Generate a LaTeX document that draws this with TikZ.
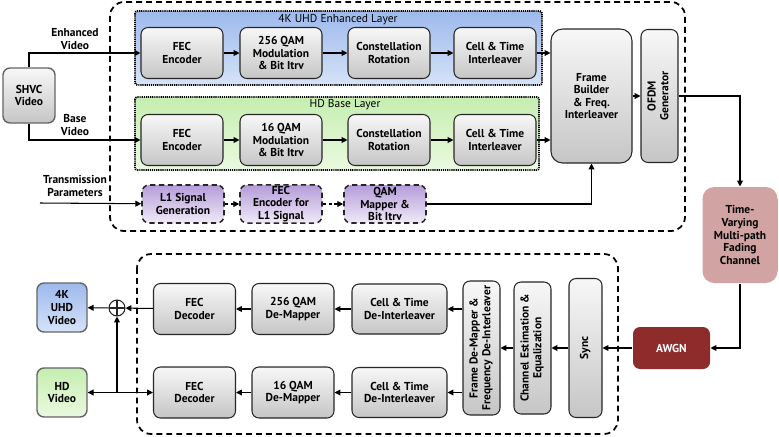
\documentclass[tikz,border=0pt]{standalone}
\usepackage{fontspec}
\setsansfont{PT Sans}
\usepackage{graphicx}
\usetikzlibrary{arrows.meta}

\definecolor{uhdTop}{HTML}{9DB9EC}
\definecolor{uhdBot}{HTML}{D6E3F8}
\definecolor{hdTop}{HTML}{C6EEB0}
\definecolor{hdBot}{HTML}{EAF9E0}
\definecolor{purpTop}{HTML}{B59CDA}
\definecolor{purpBot}{HTML}{F0EAF7}
\definecolor{fadeFill}{HTML}{D1A3A3}
\definecolor{awgnFill}{HTML}{8E2B2B}

\newcommand{\bfont}{\sffamily\bfseries\fontsize{9.8}{10.7}\selectfont}
\newcommand{\vtext}[1]{\rotatebox{90}{\begin{tabular}{@{}c@{}}#1\end{tabular}}}

\begin{document}
\begin{tikzpicture}[x=0.03cm,y=-0.03cm]
	\tikzstyle{blk}=[draw=black!85,line width=0.9pt,rounded corners=6pt,top color=gray!6,bottom color=gray!45,align=center,font=\bfont,inner sep=1pt,minimum width=2.46cm,minimum height=1.53cm]
	\tikzstyle{l1blk}=[blk,dash pattern=on 4.5pt off 3pt,line width=1.3pt,top color=purpTop,bottom color=purpBot,minimum height=1.14cm]
	\tikzstyle{vblk}=[blk,minimum width=1.11cm,minimum height=4.02cm]
	\tikzstyle{vidblk}=[blk,draw=black!60,line width=1.2pt,minimum width=1.5cm,minimum height=1.47cm]
	\tikzstyle{arr}=[-{Triangle[length=5pt,width=5pt]},line width=0.9pt]
	\tikzstyle{lbl}=[align=center,font=\bfont]
	\tikzstyle{outer}=[dash pattern=on 5pt off 3.5pt,line width=1.5pt,rounded corners=12pt]
	\tikzstyle{layer}=[dash pattern=on 1pt off 0.8pt,line width=1.6pt,rounded corners=2pt]
	\useasboundingbox (0,0) rectangle (779,436);

	% transmitter
	\draw[outer] (110,2) rectangle (685,231);
	\draw[layer,top color=uhdTop,bottom color=uhdBot] (135,11) rectangle (542,85);
	\draw[layer,top color=hdTop,bottom color=hdBot] (135,97) rectangle (539,170);
	\node[lbl,font=\sffamily\fontsize{9.8}{10.7}\selectfont] (uhdlayer) at (338,20) {4K UHD Enhanced Layer};
	\node[lbl,font=\sffamily\fontsize{9.8}{10.7}\selectfont] (hdlayer) at (345,105) {HD Base Layer};

	\node[blk] (fecA) at (182,53)  {FEC\\Encoder};
	\node[blk] (qamA) at (281,53)  {256 QAM\\Modulation\\\& Bit Itrv};
	\node[blk] (rotA) at (389,53)  {Constellation\\Rotation};
	\node[blk] (ctiA) at (495,53)  {Cell \& Time\\Interleaver};
	\node[blk] (fecB) at (182,140) {FEC\\Encoder};
	\node[blk] (qamB) at (281,140) {16 QAM\\Modulation\\\& Bit Itrv};
	\node[blk] (rotB) at (389,140) {Constellation\\Rotation};
	\node[blk] (ctiB) at (495,140) {Cell \& Time\\Interleaver};
	\node[blk,rounded corners=10pt,minimum width=2.43cm,minimum height=4.02cm] (frame) at (591.5,96) {Frame\\Builder\\\& Freq.\\Interleaver};
	\node[vblk,minimum height=3.99cm] (ofdm) at (659.5,96) {\vtext{OFDM\\Generator}};

	\node[l1blk] (l1gen) at (183,204) {L1 Signal\\Generation};
	\node[l1blk] (l1fec) at (281,204) {FEC\\Encoder for\\L1 Signal};
	\node[l1blk] (l1qam) at (385,204) {QAM\\Mapper \&\\Bit Itrv};

	\node[vidblk,minimum width=1.56cm,minimum height=1.65cm] (shvc) at (29,95.5) {SHVC\\Video};
	\node[lbl] (enhlbl) at (75,39) {Enhanced\\Video};
	\node[lbl] (baselbl) at (75,125) {Base\\Video};
	\node[lbl] (tplbl) at (75,186) {Transmission\\Parameters};
	\coordinate (tpin) at (40,203);

	% channel
	\node[blk,draw=none,rounded corners=10pt,top color=fadeFill,bottom color=fadeFill,minimum width=2.25cm,minimum height=2.88cm] (fading) at (740,235) {Time-\\Varying\\Multi-path\\Fading\\Channel};
	\node[blk,draw=none,top color=awgnFill,bottom color=awgnFill,text=white,minimum width=2.31cm,minimum height=1.26cm] (awgn) at (671.5,348) {AWGN};

	% receiver
	\draw[outer] (137,254) rectangle (618,434);
	\node[vblk,minimum width=0.99cm,minimum height=4.17cm] (sync) at (585.5,348) {\vtext{Sync}};
	\node[vblk,minimum height=3.96cm] (chest) at (532.5,348) {\vtext{Channel Estimation \&\\Equalization}};
	\node[vblk] (frdm) at (481.5,348) {\vtext{Frame De-Mapper \&\\Frequency De-Interleaver}};
	\node[blk,minimum width=2.85cm,minimum height=1.5cm] (cdtA) at (399.5,309) {Cell \& Time\\De-Interleaver};
	\node[blk] (dmA) at (293,309) {256 QAM\\De-Mapper};
	\node[blk] (fecdA) at (194.5,309) {FEC\\Decoder};
	\node[blk,minimum width=2.85cm,minimum height=1.5cm] (cdtB) at (399.5,392.5) {Cell \& Time\\De-Interleaver};
	\node[blk] (dmB) at (293,392.5) {16 QAM\\De-Mapper};
	\node[blk] (fecdB) at (194.5,392.5) {FEC\\Decoder};
	\node[circle,draw=black!85,line width=0.9pt,minimum size=0.48cm,inner sep=0pt,
		path picture={\draw[line width=0.9pt] (path picture bounding box.north) -- (path picture bounding box.south)
		(path picture bounding box.west) -- (path picture bounding box.east);}] (oplus) at (117,308) {};
	\coordinate (jct) at (117,392.5);
	\node[vidblk,top color=uhdTop,bottom color=uhdBot] (uhdv) at (62,307.5) {4K\\UHD\\Video};
	\node[vidblk,top color=hdTop,bottom color=hdBot] (hdv) at (62,392.5) {HD\\Video};

	% connections
	\draw[arr] (shvc) |- (fecA);
	\draw[arr] (shvc) |- (fecB);
	\path[arr]
	(fecA) edge (qamA)
	(qamA) edge (rotA)
	(rotA) edge (ctiA)
	(fecB) edge (qamB)
	(qamB) edge (rotB)
	(rotB) edge (ctiB)
	(tpin) edge (l1gen)
	(frame) edge (ofdm)
	;
	\draw[arr] (ctiA) -- (ctiA -| frame.west);
	\draw[arr] (ctiB) -- (ctiB -| frame.west);
	\path[arr,dash pattern=on 3pt off 2pt]
	(l1gen) edge (l1fec)
	(l1fec) edge (l1qam)
	;
	\draw[arr] (l1qam) -| (frame);
	\draw[arr] (ofdm) -| (fading);
	\draw[arr] (fading) |- (awgn);
	\path[arr]
	(awgn) edge (sync)
	(sync) edge (chest)
	(chest) edge (frdm)
	(cdtA) edge (dmA)
	(dmA) edge (fecdA)
	(cdtB) edge (dmB)
	(dmB) edge (fecdB)
	(fecdA) edge (oplus)
	(oplus) edge (uhdv)
	(jct) edge (oplus)
	;
	\draw[arr] (frdm.west |- cdtA) -- (cdtA);
	\draw[arr] (frdm.west |- cdtB) -- (cdtB);
	\draw[{Triangle[length=5pt,width=5pt]}-{Triangle[length=5pt,width=5pt]},line width=0.9pt] (hdv) -- (fecdB);
\end{tikzpicture}
\end{document}
